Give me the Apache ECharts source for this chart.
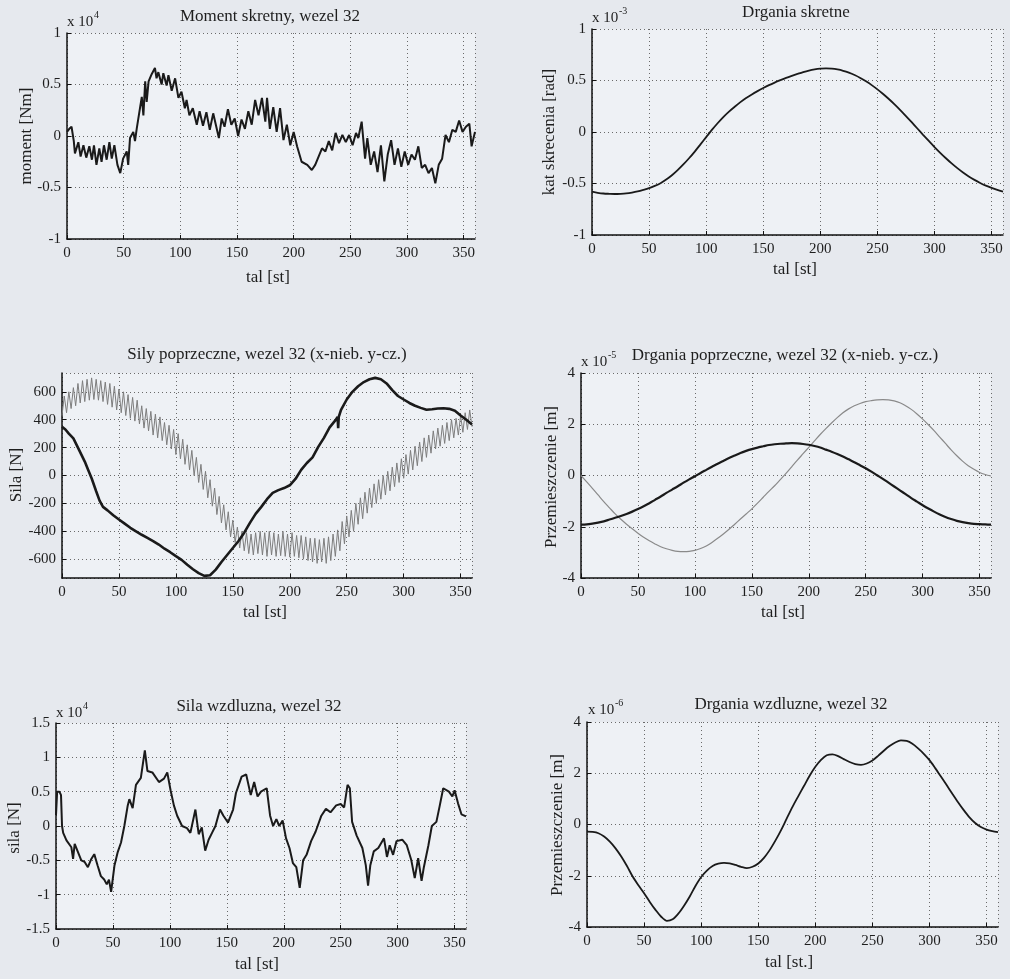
<!DOCTYPE html>
<html><head><meta charset="utf-8">
<script src="https://cdn.jsdelivr.net/npm/echarts@6/dist/echarts.min.js"></script>
<style>html,body{margin:0;padding:0;background:#e6e9ee;}#c{width:1010px;height:979px;}</style>
</head><body><div id="c"></div>
<script>
// ---------- DATA ----------
const titles = ["Moment skretny, wezel 32","Drgania skretne","Sily poprzeczne, wezel 32 (x-nieb. y-cz.)","Drgania poprzeczne, wezel 32 (x-nieb. y-cz.)","Sila wzdluzna, wezel 32","Drgania wzdluzne, wezel 32"];
const yNames = ["moment [Nm]","kat skrecenia [rad]","Sila [N]","Przemieszczenie [m]","sila [N]","Przemieszczenie [m]"];
const xNames = ["tal [st]","tal [st]","tal [st]","tal [st]","tal [st]","tal [st.]"];
const exponents = ["4","-3",null,"-5","4","-6"];
const xTicks = [0,50,100,150,200,250,300,350];

// Plot 1: moment (x 1e4)
const momentPts = [[0,0.04],[2,0.07],[4,0.09],[6,-0.05],[7,-0.17],[10,-0.06],[12,-0.2],[14.5,-0.09],[17,-0.21],[19.7,-0.1],[22,-0.23],[23.8,-0.09],[26,-0.28],[28.5,-0.12],[30.5,-0.25],[32.6,-0.09],[35,-0.23],[37.4,-0.06],[39.5,-0.22],[41.8,-0.09],[44.5,-0.28],[47,-0.36],[49.5,-0.22],[52.7,-0.15],[54,-0.28],[55.6,-0.02],[58.5,0.04],[60,-0.05],[61.5,0.07],[64.4,0.27],[66,0.38],[67.4,0.2],[69,0.53],[70.3,0.33],[72,0.53],[74.7,0.6],[77.6,0.66],[79,0.56],[80.6,0.62],[83.5,0.5],[85,0.61],[87.9,0.49],[89.5,0.59],[92.4,0.44],[95.4,0.56],[98.3,0.37],[101,0.43],[104,0.27],[105.5,0.35],[108,0.2],[111,0.27],[114.5,0.11],[117,0.24],[120,0.1],[123,0.23],[126,0.06],[129,0.22],[134,-0.02],[136.5,0.17],[139,0.09],[142,0.26],[145,0.11],[148,0.17],[151,0.0],[154,0.16],[157,0.07],[160,0.24],[163,0.11],[166,0.35],[169,0.2],[172,0.37],[175,0.14],[176.5,0.37],[179,0.07],[182,0.28],[185,0.04],[188,0.27],[191,-0.04],[194,0.11],[197,-0.09],[200,0.04],[203,-0.1],[207,-0.25],[212,-0.28],[216,-0.33],[219,-0.28],[222,-0.2],[225,-0.12],[228,-0.15],[231,-0.05],[234,-0.14],[237,0.03],[240,-0.07],[243,0.01],[246,-0.06],[249,0.01],[252,-0.09],[255,0.03],[257,-0.02],[260,0.14],[263,-0.22],[265,-0.02],[268,-0.28],[271,-0.15],[274,-0.35],[277,-0.09],[280,-0.44],[283,-0.18],[286,-0.04],[289,-0.28],[292,-0.12],[295,-0.3],[298,-0.15],[301,-0.28],[304,-0.18],[307,-0.23],[310,-0.1],[313,-0.31],[316,-0.28],[319,-0.36],[322,-0.31],[325,-0.46],[328,-0.28],[331,-0.22],[334,0.01],[337,-0.06],[340,0.06],[343,0.04],[346,0.15],[349,0.04],[352,0.09],[355,0.12],[357,-0.1],[360,0.04]];

// Smooth curves sampled every 5 deg (0..360)
const deg5 = [0,5,10,15,20,25,30,35,40,45,50,55,60,65,70,75,80,85,90,95,100,105,110,115,120,125,130,135,140,145,150,155,160,165,170,175,180,185,190,195,200,205,210,215,220,225,230,235,240,245,250,255,260,265,270,275,280,285,290,295,300,305,310,315,320,325,330,335,340,345,350,355,360];
// Plot 2: torsional angle (x 1e-3)
const skretVals = [-0.58,-0.59,-0.597,-0.6,-0.602,-0.6,-0.596,-0.588,-0.577,-0.562,-0.545,-0.523,-0.497,-0.462,-0.42,-0.37,-0.315,-0.255,-0.19,-0.12,-0.05,0.02,0.085,0.145,0.198,0.245,0.29,0.33,0.365,0.397,0.427,0.455,0.48,0.503,0.525,0.545,0.564,0.582,0.597,0.608,0.615,0.618,0.615,0.607,0.594,0.576,0.553,0.525,0.492,0.455,0.414,0.369,0.32,0.268,0.213,0.155,0.095,0.034,-0.027,-0.087,-0.146,-0.202,-0.255,-0.305,-0.351,-0.393,-0.431,-0.465,-0.495,-0.521,-0.543,-0.562,-0.578];

// Plot 3: transverse forces
const forceYPts = [[0,350],[3,330],[6,300],[10,266],[14,200],[17,150],[20,100],[23,40],[26,-20],[30,-113],[33,-180],[36,-225],[40,-250],[45,-285],[50,-315],[55,-345],[60,-375],[65,-400],[70,-425],[75,-447],[80,-470],[85,-495],[90,-525],[95,-550],[100,-578],[105,-605],[110,-640],[115,-672],[120,-700],[125,-720],[130,-715],[135,-675],[140,-620],[145,-570],[150,-520],[155,-470],[160,-410],[165,-340],[170,-275],[175,-225],[180,-170],[185,-125],[190,-105],[195,-90],[200,-70],[205,-25],[210,40],[215,90],[220,130],[225,205],[230,270],[235,345],[240,395],[242,420],[242.5,340],[243,420],[245,470],[250,545],[255,600],[260,640],[265,670],[270,690],[275,700],[280,690],[285,660],[290,612],[295,570],[300,545],[305,520],[310,500],[315,485],[320,472],[325,475],[330,480],[335,482],[340,478],[345,465],[350,430],[355,400],[360,366]];
const forceXVals = [430,570,450,600,480,630,500,660,520,680,530,690,540,700,545,690,540,680,530,670,510,660,490,640,470,620,450,600,430,580,410,560,390,540,370,500,340,480,320,460,290,440,270,420,250,380,220,360,190,330,150,300,120,260,80,220,40,180,0,130,-50,80,-100,30,-160,-30,-220,-90,-280,-150,-340,-210,-390,-260,-440,-320,-480,-370,-520,-400,-540,-410,-560,-420,-570,-410,-560,-400,-570,-410,-580,-400,-570,-410,-580,-420,-575,-400,-580,-420,-585,-410,-580,-430,-590,-430,-600,-440,-610,-450,-620,-450,-630,-460,-620,-450,-630,-440,-610,-420,-580,-390,-540,-330,-490,-290,-440,-250,-400,-200,-350,-160,-310,-120,-270,-90,-230,-60,-200,-30,-170,0,-140,30,-110,60,-80,90,-50,120,-20,150,10,180,40,210,70,240,100,270,130,290,160,320,190,340,210,360,230,380,250,400,270,410,290,430,310,450,330,470,350];

// Plot 4: transverse displacements (x 1e-5)
const dispYVals = [-1.92,-1.91,-1.88,-1.84,-1.79,-1.72,-1.65,-1.58,-1.5,-1.41,-1.31,-1.2,-1.08,-0.95,-0.82,-0.68,-0.55,-0.42,-0.28,-0.15,-0.03,0.1,0.22,0.34,0.46,0.57,0.68,0.78,0.88,0.96,1.03,1.09,1.14,1.19,1.22,1.24,1.25,1.26,1.25,1.23,1.2,1.15,1.09,1.01,0.93,0.84,0.74,0.63,0.52,0.4,0.28,0.15,0.01,-0.13,-0.28,-0.43,-0.58,-0.73,-0.88,-1.02,-1.16,-1.29,-1.41,-1.52,-1.62,-1.7,-1.77,-1.82,-1.86,-1.89,-1.9,-1.91,-1.92];
const dispXVals = [0,-0.25,-0.5,-0.76,-1.02,-1.26,-1.5,-1.71,-1.9,-2.08,-2.25,-2.41,-2.55,-2.67,-2.78,-2.86,-2.92,-2.96,-2.97,-2.96,-2.92,-2.85,-2.75,-2.61,-2.45,-2.28,-2.1,-1.9,-1.7,-1.5,-1.3,-1.08,-0.85,-0.62,-0.4,-0.16,0.08,0.34,0.6,0.85,1.1,1.35,1.6,1.83,2.05,2.26,2.45,2.6,2.72,2.81,2.88,2.92,2.95,2.96,2.95,2.91,2.84,2.72,2.58,2.4,2.2,1.98,1.75,1.5,1.25,1.0,0.77,0.56,0.38,0.24,0.12,0.04,-0.02];

// Plot 5: axial force (x 1e4)
const axialPts = [[0,0.16],[1,0.5],[3,0.5],[4.4,0.45],[5.3,0.0],[6.3,-0.1],[9.2,-0.21],[10.6,-0.19],[13.5,-0.31],[15,-0.48],[16.4,-0.26],[19.3,-0.38],[22.2,-0.5],[25,-0.52],[28,-0.6],[31,-0.48],[33.6,-0.41],[36.6,-0.58],[39.4,-0.73],[42.3,-0.78],[44.6,-0.85],[46.5,-0.78],[48.4,-0.96],[51.3,-0.58],[54.2,-0.38],[57.1,-0.24],[60,0.0],[63,0.3],[64.4,0.39],[67.3,0.26],[70.2,0.6],[74.5,0.7],[78,1.1],[80.3,0.8],[84.6,0.78],[90.4,0.64],[94.8,0.69],[97.7,0.78],[100.6,0.52],[103.5,0.3],[106.4,0.15],[110.7,0.0],[115,-0.03],[118,-0.1],[122.4,0.24],[125.3,-0.12],[128,-0.02],[131,-0.36],[134,-0.2],[137,-0.1],[140,0.0],[144,0.24],[147,0.15],[151,0.05],[155.5,0.24],[158,0.48],[163,0.72],[167,0.75],[171,0.45],[174,0.64],[177,0.43],[180,0.5],[185,0.55],[188,0.15],[190.6,0.0],[193.5,0.1],[196,0.0],[199,0.08],[202,-0.18],[205,-0.32],[208,-0.54],[211,-0.6],[214,-0.9],[217,-0.5],[220,-0.42],[224,-0.22],[228,-0.08],[233,0.15],[237,0.25],[241,0.2],[246,0.3],[250,0.32],[253,0.27],[256,0.6],[258,0.55],[260,0.06],[264,-0.14],[269,-0.32],[272,-0.57],[274,-0.87],[276,-0.57],[279,-0.37],[283,-0.32],[288,-0.18],[290.6,-0.45],[293,-0.28],[296,-0.42],[299,-0.22],[304,-0.2],[308,-0.28],[312,-0.5],[315,-0.76],[318,-0.47],[321,-0.8],[323,-0.6],[327,-0.28],[330,0.0],[334,0.06],[337,0.3],[340,0.55],[345,0.5],[348,0.43],[350,0.52],[353,0.33],[356,0.17],[360,0.14]];

// Plot 6: axial displacement (x 1e-6)
const axialDispVals = [-0.28,-0.29,-0.34,-0.47,-0.67,-0.93,-1.25,-1.62,-2.03,-2.37,-2.68,-3.02,-3.33,-3.6,-3.76,-3.7,-3.48,-3.17,-2.81,-2.4,-2.05,-1.8,-1.62,-1.53,-1.5,-1.52,-1.58,-1.65,-1.7,-1.65,-1.52,-1.3,-1.0,-0.63,-0.22,0.24,0.69,1.1,1.5,1.9,2.25,2.52,2.7,2.74,2.67,2.55,2.44,2.36,2.33,2.38,2.5,2.68,2.88,3.06,3.2,3.28,3.26,3.15,2.97,2.76,2.51,2.2,1.87,1.54,1.2,0.87,0.56,0.28,0.06,-0.1,-0.2,-0.26,-0.3];

// y-axis ranges / ticks
const yRanges = [[-1,1,0.5],[-1,1,0.5],[-735,735,200],[-4,4,2],[-1.5,1.5,0.5],[-4,4,2]];

// ---------- LAYOUT ----------
const grids = [
  {left:67,top:33,width:408,height:206},
  {left:592,top:29,width:411,height:206},
  {left:62,top:373,width:410,height:205},
  {left:581,top:373,width:410,height:205},
  {left:56,top:723,width:410,height:206},
  {left:587,top:722,width:411,height:205}
];
const titlePos = [[270,17],[796,13],[267,355],[785,356],[259,707],[791,705]];
const xNamePos = [[268,278],[795,270],[265,613],[783,613],[257,965],[789,963]];
const yNamePos = [[27,136],[550,132],[17,475],[552,477],[15,828],[558,825]];
const expPos = [[67,22],[592,18],null,[581,362],[56,713],[588,710]];

const serif = '"Liberation Serif","DejaVu Serif",serif';
const txt = '#1e1e1e';
const gridColor = '#6a6a6a';

function zip(xs, ys){ return xs.map((x,i)=>[x, ys[i]]); }
const deg2 = forceXVals.map((_,i)=>i*2);

const option = {
  backgroundColor: '#e6e9ee',
  animation: false,
  grid: grids.map(g => Object.assign({show:true, backgroundColor:'#eef1f5', borderWidth:0, containLabel:false}, g)),
  xAxis: grids.map((g,i) => ({
    type:'value', gridIndex:i, min:0, max:360, interval:50,
    axisLine:{show:true, onZero:false, lineStyle:{color:'#111', width:1.5}},
    axisTick:{show:true, inside:true, length:4, lineStyle:{color:'#111'}},
    axisLabel:{show:true, color:txt, fontFamily:serif, fontSize:15, margin:7, showMaxLabel:false,
      formatter: v => xTicks.indexOf(v) >= 0 ? String(v) : ''},
    splitLine:{show:true, lineStyle:{color:gridColor, type:[1,3], width:1}}
  })),
  yAxis: yRanges.map((r,i) => {
    const ax = {
      type:'value', gridIndex:i, min:r[0], max:r[1],
      axisLine:{show:true, onZero:false, lineStyle:{color:'#111', width:1.5}},
      axisTick:{show:true, inside:true, length:4, lineStyle:{color:'#111'}},
      axisLabel:{show:true, color:txt, fontFamily:serif, fontSize:15, margin:6},
      splitLine:{show:true, lineStyle:{color:gridColor, type:[1,3], width:1}}
    };
    if (i === 2) { ax.minInterval = r[2]; ax.maxInterval = r[2]; ax.axisLabel.showMinLabel = false; ax.axisLabel.showMaxLabel = false; }
    else { ax.interval = r[2]; }
    return ax;
  }),
  series: [
    {type:'line', xAxisIndex:0, yAxisIndex:0, data: momentPts, showSymbol:false, lineStyle:{color:'#1a1a1a', width:2}},
    {type:'line', xAxisIndex:1, yAxisIndex:1, data: zip(deg5, skretVals), smooth:0.3, showSymbol:false, lineStyle:{color:'#1a1a1a', width:1.8}},
    {type:'line', xAxisIndex:2, yAxisIndex:2, data: zip(deg2, forceXVals), showSymbol:false, lineStyle:{color:'#7d7d7d', width:1}},
    {type:'line', xAxisIndex:2, yAxisIndex:2, data: forceYPts, showSymbol:false, lineStyle:{color:'#1a1a1a', width:2.6}},
    {type:'line', xAxisIndex:3, yAxisIndex:3, data: zip(deg5, dispXVals), smooth:0.3, showSymbol:false, lineStyle:{color:'#8a8a8a', width:1.2}},
    {type:'line', xAxisIndex:3, yAxisIndex:3, data: zip(deg5, dispYVals), smooth:0.3, showSymbol:false, lineStyle:{color:'#1a1a1a', width:2.2}},
    {type:'line', xAxisIndex:4, yAxisIndex:4, data: axialPts, showSymbol:false, lineStyle:{color:'#1a1a1a', width:2}},
    {type:'line', xAxisIndex:5, yAxisIndex:5, data: zip(deg5, axialDispVals), smooth:0.3, showSymbol:false, lineStyle:{color:'#1a1a1a', width:1.8}}
  ],
  graphic: []
};

titles.forEach((t,i) => {
  option.graphic.push({type:'text', x:titlePos[i][0], y:titlePos[i][1], silent:true,
    style:{text:t, font:'17px '+serif, fill:txt, textAlign:'center', textVerticalAlign:'middle'}});
  option.graphic.push({type:'text', x:xNamePos[i][0], y:xNamePos[i][1], silent:true,
    style:{text:xNames[i], font:'17px '+serif, fill:txt, textAlign:'center', textVerticalAlign:'middle'}});
  option.graphic.push({type:'text', x:yNamePos[i][0], y:yNamePos[i][1], rotation:Math.PI/2, silent:true,
    style:{text:yNames[i], font:'17px '+serif, fill:txt, textAlign:'center', textVerticalAlign:'middle'}});
  if (exponents[i] !== null) {
    option.graphic.push({type:'text', x:expPos[i][0], y:expPos[i][1], silent:true,
      style:{text:'x 10', font:'15px '+serif, fill:txt, textAlign:'left', textVerticalAlign:'middle'}});
    option.graphic.push({type:'text', x:expPos[i][0]+27, y:expPos[i][1]-7, silent:true,
      style:{text:exponents[i], font:'10px '+serif, fill:txt, textAlign:'left', textVerticalAlign:'middle'}});
  }
});

const chart = echarts.init(document.getElementById('c'), null, {renderer:'canvas'});
chart.setOption(option);
</script></body></html>
